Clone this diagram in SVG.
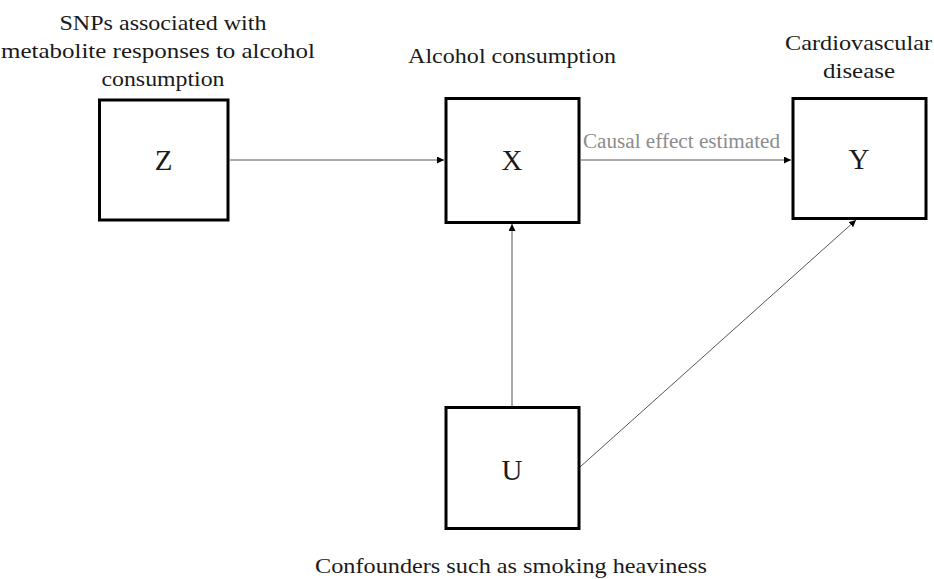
<svg xmlns="http://www.w3.org/2000/svg" width="934" height="579" viewBox="0 0 934 579">
<style>
.box{fill:#fff;stroke:#000;stroke-width:3}
.lbl{font-family:'Times New Roman','Liberation Serif',Times,serif;font-size:22px;fill:#1a1a1a;text-anchor:middle}
.let{font-family:'Times New Roman','Liberation Serif',Times,serif;font-size:29px;fill:#1a1a1a;text-anchor:middle}
.edge{stroke:#555;stroke-width:1;fill:none}
.note{font-family:'Times New Roman','Liberation Serif',Times,serif;font-size:20px;fill:#8c8c8c}
</style>
<defs>
<marker id="ah" viewBox="0 0 10 10" refX="10" refY="5" markerWidth="7" markerHeight="7" markerUnits="userSpaceOnUse" orient="auto">
<path d="M0,0 L10,5 L0,10 z" fill="#000"/>
</marker>
</defs>
<rect width="934" height="579" fill="#fff"/>
<g id="connectors">
<line class="edge" x1="230" y1="160" x2="444" y2="160" marker-end="url(#ah)"/>
<line class="edge" x1="581" y1="160" x2="791" y2="160" marker-end="url(#ah)"/>
<line class="edge" x1="512" y1="406" x2="512" y2="224" marker-end="url(#ah)"/>
<line class="edge" x1="580" y1="467" x2="856" y2="220" marker-end="url(#ah)"/>
<text class="note" x="583" y="148" textLength="197" lengthAdjust="spacingAndGlyphs">Causal effect estimated</text>
</g>
<g id="node-Z">
<rect class="box" x="99.5" y="100" width="128.5" height="120"/>
<text class="let" x="163.5" y="170">Z</text>
<text class="lbl" x="163" y="30" textLength="207" lengthAdjust="spacingAndGlyphs">SNPs associated with</text>
<text class="lbl" x="158" y="58" textLength="314" lengthAdjust="spacingAndGlyphs">metabolite responses to alcohol</text>
<text class="lbl" x="163" y="86" textLength="123" lengthAdjust="spacingAndGlyphs">consumption</text>
</g>
<g id="node-X">
<rect class="box" x="446" y="98.5" width="133" height="124"/>
<text class="let" x="512" y="170">X</text>
<text class="lbl" x="512" y="63" textLength="208" lengthAdjust="spacingAndGlyphs">Alcohol consumption</text>
</g>
<g id="node-Y">
<rect class="box" x="793" y="98.5" width="133" height="120"/>
<text class="let" x="859" y="169">Y</text>
<text class="lbl" x="858.5" y="50" textLength="147" lengthAdjust="spacingAndGlyphs">Cardiovascular</text>
<text class="lbl" x="859" y="78" textLength="72" lengthAdjust="spacingAndGlyphs">disease</text>
</g>
<g id="node-U">
<rect class="box" x="446" y="407.5" width="133" height="121"/>
<text class="let" x="512" y="480">U</text>
<text class="lbl" x="511" y="573" textLength="392" lengthAdjust="spacingAndGlyphs">Confounders such as smoking heaviness</text>
</g>
</svg>
